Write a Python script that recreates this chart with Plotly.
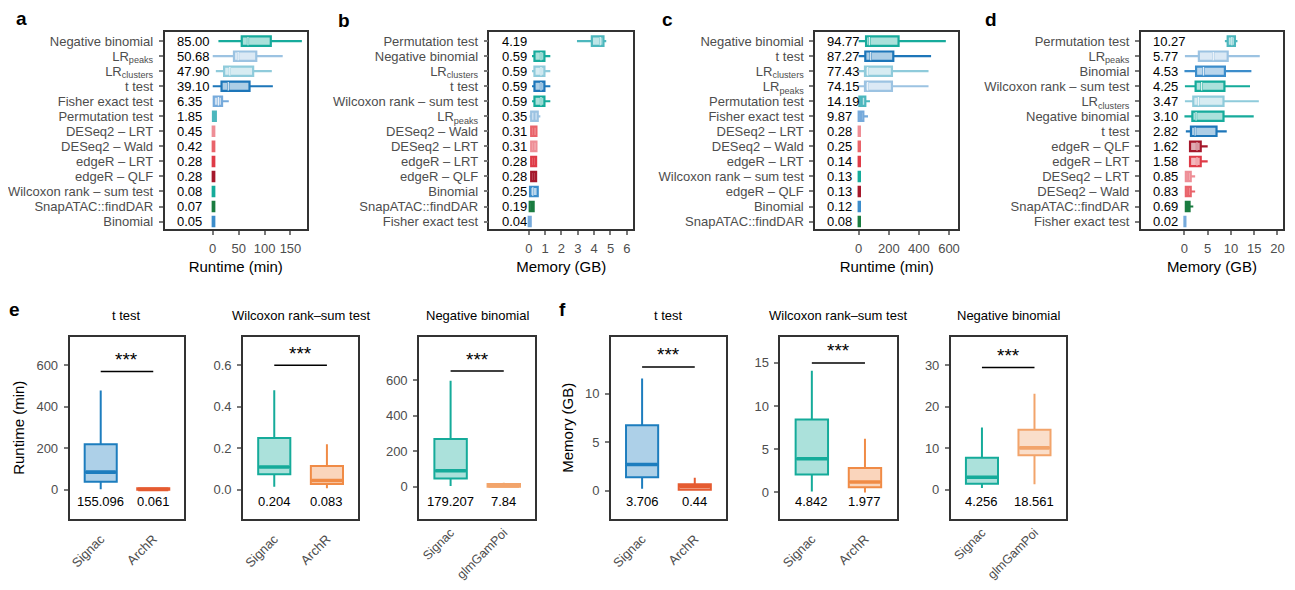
import plotly.graph_objects as go

# the page body has an 8px margin: the figure sits at (8, 8) inside a 1295x590 window
OFF = 8
W, H = 1295 - 2 * OFF, 590 - 2 * OFF
FONT = "Liberation Sans, Arial, Helvetica, sans-serif"
GRAY = "#4d4d4d"
TICKC = "#7a7a7a"
FRAME = "#333333"
FS = 13

# ---------------- colours per method ----------------
method_colors = {
    "Negative binomial": "#17ab9c",
    "LR<sub>peaks</sub>": "#9cc3e2",
    "LR<sub>clusters</sub>": "#8fcbdb",
    "t test": "#1d76b9",
    "Fisher exact test": "#76aadb",
    "Permutation test": "#4cb7bd",
    "DESeq2 – LRT": "#ee8e96",
    "DESeq2 – Wald": "#e9636a",
    "edgeR – LRT": "#df3b47",
    "edgeR – QLF": "#a5182b",
    "Wilcoxon rank – sum test": "#15ab9a",
    "SnapATAC::findDAR": "#1a7c40",
    "Binomial": "#3c8dcb",
}

# ---------------- panel a: runtime (min) ----------------
a_methods = ["Negative binomial", "LR<sub>peaks</sub>", "LR<sub>clusters</sub>", "t test",
             "Fisher exact test", "Permutation test", "DESeq2 – LRT", "DESeq2 – Wald",
             "edgeR – LRT", "edgeR – QLF", "Wilcoxon rank – sum test", "SnapATAC::findDAR", "Binomial"]
a_mean = [85.00, 50.68, 47.90, 39.10, 6.35, 1.85, 0.45, 0.42, 0.28, 0.28, 0.08, 0.07, 0.05]
a_lo = [11, 0, 6, 0, 0, 0, 0, 0, 0, 0, 0, 0, 0]
a_q1 = [56, 41, 22, 17, 2, 0.5, 0, 0, 0, 0, 0, 0, 0]
a_med = [68, 49, 33, 30, 11, 2, 1, 1, 1, 1, 0.5, 0.5, 0.5]
a_q3 = [112, 84, 78, 71, 18, 6, 3, 3, 3, 3, 3, 3, 3]
a_hi = [172, 135, 114, 116, 31, 7, 3, 3, 3, 3, 3, 3, 3]

# ---------------- panel b: memory (GB) ----------------
b_methods = ["Permutation test", "Negative binomial", "LR<sub>clusters</sub>", "t test",
             "Wilcoxon rank – sum test", "LR<sub>peaks</sub>", "DESeq2 – Wald", "DESeq2 – LRT",
             "edgeR – LRT", "edgeR – QLF", "Binomial", "SnapATAC::findDAR", "Fisher exact test"]
b_mean = [4.19, 0.59, 0.59, 0.59, 0.59, 0.35, 0.31, 0.31, 0.28, 0.28, 0.25, 0.19, 0.04]
b_lo = [2.95, 0.2, 0.2, 0.2, 0.2, 0.05, 0.15, 0.15, 0.15, 0.15, 0.06, 0.06, 0.0]
b_q1 = [3.86, 0.35, 0.35, 0.35, 0.35, 0.15, 0.15, 0.15, 0.15, 0.15, 0.08, 0.06, 0.0]
b_med = [4.37, 0.75, 0.75, 0.75, 0.75, 0.35, 0.3, 0.3, 0.3, 0.3, 0.25, 0.2, 0.04]
b_q3 = [4.57, 0.96, 0.96, 0.96, 0.96, 0.55, 0.47, 0.47, 0.45, 0.45, 0.55, 0.3, 0.12]
b_hi = [4.74, 1.32, 1.32, 1.32, 1.32, 0.71, 0.47, 0.47, 0.45, 0.45, 0.6, 0.3, 0.12]

# ---------------- panel c: runtime (min) ----------------
c_methods = ["Negative binomial", "t test", "LR<sub>clusters</sub>", "LR<sub>peaks</sub>",
             "Permutation test", "Fisher exact test", "DESeq2 – LRT", "DESeq2 – Wald",
             "edgeR – LRT", "Wilcoxon rank – sum test", "edgeR – QLF", "Binomial", "SnapATAC::findDAR"]
c_mean = [94.77, 87.27, 77.43, 74.15, 14.19, 9.87, 0.28, 0.25, 0.14, 0.13, 0.13, 0.12, 0.08]
c_lo = [0, 0, 0, 0, 5, 0, 0, 0, 0, 0, 0, 0, 0]
c_q1 = [49, 44, 42, 42, 5, 0, 0, 0, 0, 0, 0, 0, 0]
c_med = [71, 80, 60, 60, 20, 15, 2, 2, 2, 2, 2, 2, 2]
c_q3 = [265, 230, 221, 221, 44, 31, 8, 8, 8, 8, 8, 8, 8]
c_hi = [579, 481, 464, 464, 75, 62, 8, 8, 8, 8, 8, 8, 8]

# ---------------- panel d: memory (GB) ----------------
d_methods = ["Permutation test", "LR<sub>peaks</sub>", "Binomial", "Wilcoxon rank – sum test",
             "LR<sub>clusters</sub>", "Negative binomial", "t test", "edgeR – QLF", "edgeR – LRT",
             "DESeq2 – LRT", "DESeq2 – Wald", "SnapATAC::findDAR", "Fisher exact test"]
d_mean = [10.27, 5.77, 4.53, 4.25, 3.47, 3.10, 2.82, 1.62, 1.58, 0.85, 0.83, 0.69, 0.02]
d_lo = [8.7, 0.1, 0.0, 0.1, 0.1, 0.0, 0.3, 1.2, 1.2, 0.3, 0.3, 0.3, 0.0]
d_q1 = [9.3, 3.1, 2.5, 2.4, 1.9, 1.7, 1.4, 1.2, 1.2, 0.3, 0.3, 0.3, 0.0]
d_med = [10.2, 6.2, 4.1, 3.7, 3.0, 2.5, 2.3, 2.7, 2.7, 0.8, 0.8, 0.7, 0.05]
d_q3 = [10.86, 9.3, 8.7, 8.6, 8.4, 8.4, 6.9, 3.5, 3.5, 1.35, 1.35, 1.1, 0.2]
d_hi = [11.4, 16.2, 14.4, 14.1, 16.0, 14.9, 9.1, 5.0, 5.0, 2.3, 2.3, 1.9, 0.2]

# ---------------- bottom panels e / f ----------------
bot_titles = ["t test", "Wilcoxon rank–sum test", "Negative binomial",
              "t test", "Wilcoxon rank–sum test", "Negative binomial"]
bot_cats = [["Signac", "ArchR"], ["Signac", "ArchR"], ["Signac", "glmGamPoi"],
            ["Signac", "ArchR"], ["Signac", "ArchR"], ["Signac", "glmGamPoi"]]
bot_lo = [[3, 0], [0.015, 0.008], [5, 0], [0.2, 0.0], [0.1, 0.0], [0.4, 1.3]]
bot_q1 = [[39, 0], [0.075, 0.028], [47, 0], [1.38, 0.1], [2.08, 0.6], [1.42, 8.27]]
bot_med = [[85, 2], [0.11, 0.045], [90, 5], [2.7, 0.45], [3.9, 1.2], [3.0, 10.07]]
bot_q3 = [[219, 8], [0.25, 0.115], [268, 16], [6.75, 0.67], [8.44, 2.84], [7.7, 14.4]]
bot_hi = [[478, 9], [0.48, 0.22], [596, 22], [11.58, 1.35], [14.06, 6.2], [14.96, 23.06]]
bot_means = [["155.096", "0.061"], ["0.204", "0.083"], ["179.207", "7.84"],
             ["3.706", "0.44"], ["4.842", "1.977"], ["4.256", "18.561"]]
bot_sig_y = [570, 0.60, 650, 12.77, 14.97, 29.4]
bot_colors = [["#1d7dbe", "#e55b30"], ["#15ab9a", "#f08b46"], ["#15ab9a", "#f2a46b"],
              ["#1d7dbe", "#e55b30"], ["#15ab9a", "#f08b46"], ["#15ab9a", "#f2a46b"]]
bot_yrange = [[-139, 737], [-0.139, 0.737], [-179, 842], [-2.88, 15.87], [-3.03, 17.99], [-6.95, 36.76]]
bot_ticks = [[0, 200, 400, 600], [0.0, 0.2, 0.4, 0.6], [0, 200, 400, 600],
             [0, 5, 10], [0, 5, 10, 15], [0, 10, 20, 30]]


def rgba(hexc, a):
    hexc = hexc.lstrip("#")
    r, g, b = int(hexc[0:2], 16), int(hexc[2:4], 16), int(hexc[4:6], 16)
    return f"rgba({r},{g},{b},{a})"


def px_x(p):
    return (p - OFF) / W


def px_y(p):
    return 1 - (p - OFF) / H


def sfx(k):
    return "" if k == 1 else str(k)


fig = go.Figure()
annotations = []
shapes = []
layout_axes = {}

top_panels = [
    dict(methods=a_methods, mean=a_mean, lo=a_lo, q1=a_q1, med=a_med, q3=a_q3, hi=a_hi,
         xpx=(163, 306), xr=[-93, 182], ticks=[0, 50, 100, 150], title="Runtime (min)", letter="a", lpx=(20, 19)),
    dict(methods=b_methods, mean=b_mean, lo=b_lo, q1=b_q1, med=b_med, q3=b_q3, hi=b_hi,
         xpx=(489, 633), xr=[-2.4, 6.38], ticks=[0, 1, 2, 3, 4, 5, 6], title="Memory (GB)", letter="b", lpx=(343, 21)),
    dict(methods=c_methods, mean=c_mean, lo=c_lo, q1=c_q1, med=c_med, q3=c_q3, hi=c_hi,
         xpx=(815.7, 959.3), xr=[-289, 662], ticks=[0, 200, 400, 600], title="Runtime (min)", letter="c", lpx=(668, 20)),
    dict(methods=d_methods, mean=d_mean, lo=d_lo, q1=d_q1, med=d_med, q3=d_q3, hi=d_hi,
         xpx=(1142.3, 1285), xr=[-9.4, 21.2], ticks=[0, 5, 10, 15, 20], title="Memory (GB)", letter="d", lpx=(992, 20)),
]

TOP_Y = (32, 233)
axis_font = dict(family=FONT, size=FS, color=GRAY)

k = 0
for p in top_panels:
    k += 1
    s = sfx(k)
    xa, ya = f"x{s}", f"y{s}"
    n = len(p["methods"])
    pos = list(range(n))
    span = p["xr"][1] - p["xr"][0]
    plot_w = p["xpx"][1] - p["xpx"][0]
    wm_x, wm_y = [], []
    for i, m in enumerate(p["methods"]):
        col = method_colors[m]
        fig.add_trace(go.Box(
            orientation="h", y=[i], q1=[p["q1"][i]], median=[p["med"][i]], q3=[p["q3"][i]],
            lowerfence=[p["lo"][i]], upperfence=[p["hi"][i]],
            line=dict(color=col, width=2.2), fillcolor=rgba(col, 0.36),
            whiskerwidth=0, width=0.62, boxpoints=False, showlegend=False, hoverinfo="skip",
            xaxis=xa, yaxis=ya))
        if (p["q3"][i] - p["q1"][i]) / span * plot_w > 7:
            wm_x.append(p["med"][i])
            wm_y.append(i)
        annotations.append(dict(xref=f"{xa} domain", yref=ya, x=0.072, y=i, xanchor="left", yanchor="middle",
                                text=f"{p['mean'][i]:.2f}", showarrow=False,
                                font=dict(family=FONT, size=FS, color="black")))
    fig.add_trace(go.Scatter(
        x=wm_x, y=wm_y, mode="markers", xaxis=xa, yaxis=ya, showlegend=False, hoverinfo="skip",
        marker=dict(symbol="line-ns", size=6, line=dict(color="rgba(255,255,255,0.85)", width=1.3))))
    layout_axes[f"xaxis{s}"] = dict(
        domain=[px_x(p["xpx"][0]), px_x(p["xpx"][1])], anchor=ya, range=p["xr"],
        tickvals=p["ticks"], ticks="outside", ticklen=4, tickwidth=1.5, tickcolor=TICKC,
        tickfont=axis_font, ticklabelstandoff=3, showline=True, mirror=True, linecolor=FRAME, linewidth=1.6,
        showgrid=False, zeroline=False,
        title=dict(text=p["title"], font=dict(family=FONT, size=15, color="black"), standoff=6))
    layout_axes[f"yaxis{s}"] = dict(
        domain=[px_y(TOP_Y[1]), px_y(TOP_Y[0])], anchor=xa, range=[n - 0.5, -0.634],
        tickvals=pos, ticktext=p["methods"], ticks="outside", ticklen=4, tickwidth=1.5, tickcolor=TICKC,
        tickfont=axis_font, ticklabelstandoff=3, showline=True, mirror=True, linecolor=FRAME, linewidth=1.6,
        showgrid=False, zeroline=False)
    annotations.append(dict(xref="paper", yref="paper", x=px_x(p["lpx"][0]), y=px_y(p["lpx"][1]),
                            xanchor="center", yanchor="middle", text=f"<b>{p['letter']}</b>", showarrow=False,
                            font=dict(family=FONT, size=19, color="black")))

# bottom
BOT_Y = (342.7, 527.7)
bot_xpx = [(67.7, 183), (241.7, 357.3), (418.3, 535), (610.7, 726.3), (780.7, 897.3), (951.7, 1067)]
bot_ytitle = ["Runtime (min)", None, None, "Memory (GB)", None, None]
BOX_W = 0.61
XR_BOT = [-0.594, 1.594]

for j in range(6):
    k += 1
    s = sfx(k)
    xa, ya = f"x{s}", f"y{s}"
    box_px = BOX_W * (bot_xpx[j][1] - bot_xpx[j][0]) / (XR_BOT[1] - XR_BOT[0])
    for c in range(2):
        col = bot_colors[j][c]
        fig.add_trace(go.Box(
            x=[c], q1=[bot_q1[j][c]], median=[bot_med[j][c]], q3=[bot_q3[j][c]],
            lowerfence=[bot_lo[j][c]], upperfence=[bot_hi[j][c]],
            line=dict(color=col, width=2), fillcolor=rgba(col, 0.36),
            whiskerwidth=0, width=BOX_W, boxpoints=False, showlegend=False, hoverinfo="skip",
            xaxis=xa, yaxis=ya))
        # thick median bar (line-ew marker length is 1.4 x marker size)
        fig.add_trace(go.Scatter(
            x=[c], y=[bot_med[j][c]], mode="markers", xaxis=xa, yaxis=ya, showlegend=False, hoverinfo="skip",
            marker=dict(symbol="line-ew", size=(box_px - 2) / 1.4, line=dict(color=col, width=3.6))))
        annotations.append(dict(xref=xa, yref=f"{ya} domain", x=c, y=0.096, xanchor="center", yanchor="middle",
                                text=bot_means[j][c], showarrow=False,
                                font=dict(family=FONT, size=FS, color="black")))
    shapes.append(dict(type="line", xref=xa, yref=ya, x0=0, x1=1, y0=bot_sig_y[j], y1=bot_sig_y[j],
                       line=dict(color="black", width=1.5)))
    annotations.append(dict(xref=xa, yref=ya, x=0.5, y=bot_sig_y[j], yshift=12, xanchor="center",
                            yanchor="middle", text="***", showarrow=False,
                            font=dict(family=FONT, size=19, color="black")))
    annotations.append(dict(xref=f"{xa} domain", yref="paper", x=0.5, y=px_y(320.7), xanchor="center",
                            yanchor="middle", text=bot_titles[j], showarrow=False,
                            font=dict(family=FONT, size=FS, color="black")))
    # long category names would spill past the page bottom: keep them a bit tighter
    long_names = max(len(t) for t in bot_cats[j]) > 6
    layout_axes[f"xaxis{s}"] = dict(
        domain=[px_x(bot_xpx[j][0]), px_x(bot_xpx[j][1])], anchor=ya, range=XR_BOT,
        tickvals=[0, 1], ticktext=bot_cats[j], ticks="", tickangle=-45,
        tickfont=dict(family=FONT, size=12.5 if long_names else FS, color=GRAY),
        ticklabelstandoff=0 if long_names else 6, showline=True, mirror=True, linecolor=FRAME, linewidth=1.6,
        showgrid=False, zeroline=False)
    yax = dict(
        domain=[px_y(BOT_Y[1]), px_y(BOT_Y[0])], anchor=xa, range=bot_yrange[j],
        tickvals=bot_ticks[j], ticks="outside", ticklen=4, tickwidth=1.5, tickcolor=TICKC,
        tickfont=axis_font, ticklabelstandoff=3, showline=True, mirror=True, linecolor=FRAME, linewidth=1.6,
        showgrid=False, zeroline=False)
    if j == 1:
        yax["tickformat"] = ".1f"
    if bot_ytitle[j]:
        yax["title"] = dict(text=bot_ytitle[j], font=dict(family=FONT, size=15, color="black"), standoff=8)
    layout_axes[f"yaxis{s}"] = yax

annotations.append(dict(xref="paper", yref="paper", x=px_x(13), y=px_y(315), xanchor="center", yanchor="middle",
                        text="<b>e</b>", showarrow=False, font=dict(family=FONT, size=19, color="black")))
annotations.append(dict(xref="paper", yref="paper", x=px_x(562), y=px_y(315), xanchor="center", yanchor="middle",
                        text="<b>f</b>", showarrow=False, font=dict(family=FONT, size=19, color="black")))

fig.update_layout(
    width=W, height=H, autosize=False,
    margin=dict(l=0, r=0, t=0, b=0),
    paper_bgcolor="white", plot_bgcolor="white",
    font=dict(family=FONT, size=FS, color="black"),
    annotations=annotations, shapes=shapes, boxmode="overlay",
    **layout_axes,
)

fig.write_html("out.html")
